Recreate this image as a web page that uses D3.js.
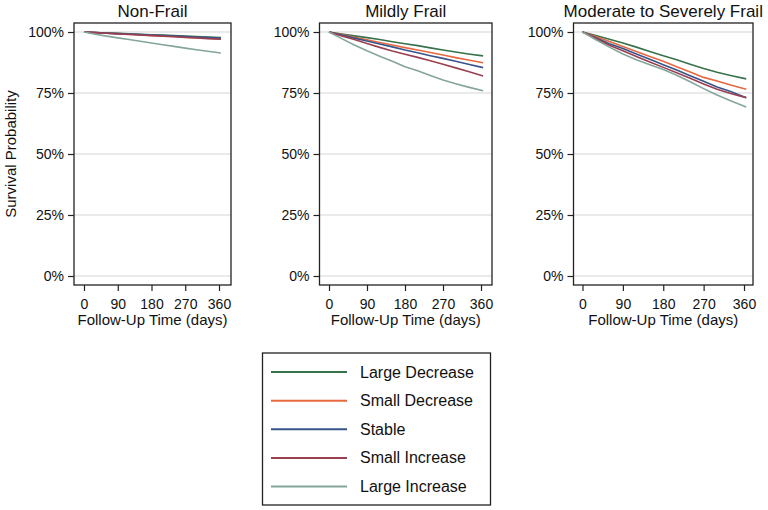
<!DOCTYPE html>
<html>
<head>
<meta charset="utf-8">
<script src="https://cdn.jsdelivr.net/npm/d3@7"></script>
<style>
  html, body { margin: 0; padding: 0; background: #fff; }
  svg { display: block; font-family: "Liberation Sans", Arial, sans-serif; }
</style>
</head>
<body>
<svg id="chart" width="768" height="510"></svg>
<script>
// ---------- data ----------
const days = [0, 30, 60, 90, 120, 150, 180, 210, 240, 270, 300, 330, 365];
const groups = ["Large Decrease", "Small Decrease", "Stable", "Small Increase", "Large Increase"];
const groupColors = ["#37724a", "#e8683f", "#36548a", "#9a3f50", "#84a59c"];
const panelTitles = ["Non-Frail", "Mildly Frail", "Moderate to Severely Frail"];
const yTicks = [0, 25, 50, 75, 100];
const xTicks = [0, 90, 180, 270, 360];

// survival (%) per group, order as in groups
const nonFrail = [
  [100, 99.8, 99.6, 99.45, 99.25, 99.05, 98.85, 98.7, 98.5, 98.3, 98.1, 97.95, 97.75],
  [100, 99.75, 99.5, 99.3, 99.05, 98.8, 98.6, 98.35, 98.15, 97.9, 97.7, 97.45, 97.2],
  [100, 99.8, 99.55, 99.35, 99.15, 98.95, 98.75, 98.55, 98.35, 98.15, 97.95, 97.75, 97.5],
  [100, 99.75, 99.5, 99.25, 99.0, 98.75, 98.5, 98.3, 98.05, 97.8, 97.55, 97.3, 97.0],
  [100, 99.1, 98.3, 97.6, 96.9, 96.2, 95.5, 94.8, 94.1, 93.4, 92.7, 92.1, 91.4]
];
const mildlyFrail = [
  [100, 99.2, 98.4, 97.7, 96.9, 96.0, 95.2, 94.4, 93.5, 92.6, 91.8, 91.0, 90.2],
  [100, 99.0, 97.8, 96.8, 95.7, 94.7, 93.6, 92.6, 91.6, 90.6, 89.5, 88.5, 87.4],
  [100, 98.8, 97.5, 96.3, 95.1, 93.9, 92.6, 91.5, 90.3, 89.2, 88.0, 86.8, 85.4],
  [100, 98.4, 96.9, 95.3, 93.7, 92.2, 90.9, 89.6, 88.2, 86.8, 85.3, 83.8, 82.0],
  [100, 97.3, 94.7, 92.3, 90.1, 88.0, 85.8, 84.1, 82.2, 80.3, 78.8, 77.4, 75.9]
];
const severelyFrail = [
  [100, 98.6, 97.0, 95.5, 93.8, 92.0, 90.3, 88.6, 86.8, 85.0, 83.5, 82.2, 80.8],
  [100, 98.2, 96.1, 94.1, 92.0, 90.0, 88.0, 85.8, 83.6, 81.4, 79.9, 78.3, 76.5],
  [100, 97.6, 95.2, 93.2, 91.0, 88.8, 86.6, 84.4, 82.1, 79.8, 77.5, 75.6, 73.1],
  [100, 97.3, 94.6, 92.3, 90.0, 87.7, 85.5, 83.3, 81.0, 78.7, 76.5, 74.8, 73.1],
  [100, 96.8, 93.8, 91.0, 88.6, 86.6, 84.6, 82.3, 79.6, 76.8, 74.2, 71.8, 69.3]
];
const panelData = [nonFrail, mildlyFrail, severelyFrail];

// ---------- layout ----------
const boxTop = 23, boxBottom = 285;
const panels = [
  { left: 74,    right: 231,   x0: 84,    x1: 219 },
  { left: 319.5, right: 492,   x0: 329,   x1: 481 },
  { left: 573.5, right: 753,   x0: 582.5, x1: 744 }
];
const frameColor = "#222";
const svg = d3.select("#chart");

const y = d3.scaleLinear().domain([0, 100]).range([276, 32]);

panels.forEach((p, pi) => {
  const g = svg.append("g");
  const x = d3.scaleLinear().domain([0, 360]).range([p.x0, p.x1]);

  // gridlines
  g.selectAll("line.grid").data(yTicks).enter().append("line")
    .attr("x1", p.left).attr("x2", p.right)
    .attr("y1", d => y(d)).attr("y2", d => y(d))
    .attr("stroke", "#e3e3e3").attr("stroke-width", 1.5);

  // series
  const line = d3.line().x((d, i) => x(days[i])).y(d => y(d));
  panelData[pi].forEach((vals, gi) => {
    g.append("path").datum(vals)
      .attr("d", line)
      .attr("fill", "none")
      .attr("stroke", groupColors[gi])
      .attr("stroke-width", 1.6)
      .attr("stroke-linejoin", "round");
  });

  // y axis
  const ya = g.append("g").attr("transform", `translate(${p.left},0)`)
    .call(d3.axisLeft(y).tickValues(yTicks).tickFormat(d => d + "%").tickSize(6).tickPadding(4));
  ya.select(".domain").remove();
  ya.selectAll("line").attr("stroke", frameColor).attr("stroke-width", 1.2);
  ya.selectAll("text").attr("font-size", 14).attr("fill", "#111")
    .attr("font-family", "'Liberation Sans', Arial, sans-serif");

  // x axis
  const xa = g.append("g").attr("transform", `translate(0,${boxBottom})`)
    .call(d3.axisBottom(x).tickValues(xTicks).tickSize(6).tickPadding(8));
  xa.select(".domain").remove();
  xa.selectAll("line").attr("stroke", frameColor).attr("stroke-width", 1.2);
  xa.selectAll("text").attr("font-size", 14).attr("fill", "#111")
    .attr("font-family", "'Liberation Sans', Arial, sans-serif");

  // frame
  g.append("rect")
    .attr("x", p.left).attr("y", boxTop)
    .attr("width", p.right - p.left).attr("height", boxBottom - boxTop)
    .attr("fill", "none").attr("stroke", frameColor).attr("stroke-width", 1.3);

  const cx = (p.left + p.right) / 2;
  // title
  g.append("text").attr("x", cx).attr("y", 17)
    .attr("text-anchor", "middle").attr("font-size", 17).attr("fill", "#111")
    .text(panelTitles[pi]);
  // x title
  g.append("text").attr("x", cx).attr("y", 325)
    .attr("text-anchor", "middle").attr("font-size", 15).attr("fill", "#111")
    .text("Follow-Up Time (days)");
});

// y title
svg.append("text")
  .attr("transform", `translate(16,${(y(0) + y(100)) / 2}) rotate(-90)`)
  .attr("text-anchor", "middle").attr("font-size", 15).attr("fill", "#111")
  .text("Survival Probability");

// legend
const leg = svg.append("g");
leg.append("rect").attr("x", 262.5).attr("y", 353).attr("width", 228).attr("height", 152)
  .attr("fill", "#fff").attr("stroke", frameColor).attr("stroke-width", 1.3);
const legY = d3.scalePoint().domain(groups).range([372, 486.5]);
groups.forEach((name, i) => {
  leg.append("line")
    .attr("x1", 271).attr("x2", 347)
    .attr("y1", legY(name)).attr("y2", legY(name))
    .attr("stroke", groupColors[i]).attr("stroke-width", 2);
  leg.append("text")
    .attr("x", 360).attr("y", legY(name)).attr("dy", "0.35em")
    .attr("font-size", 16).attr("fill", "#111")
    .text(name);
});
</script>
</body>
</html>
